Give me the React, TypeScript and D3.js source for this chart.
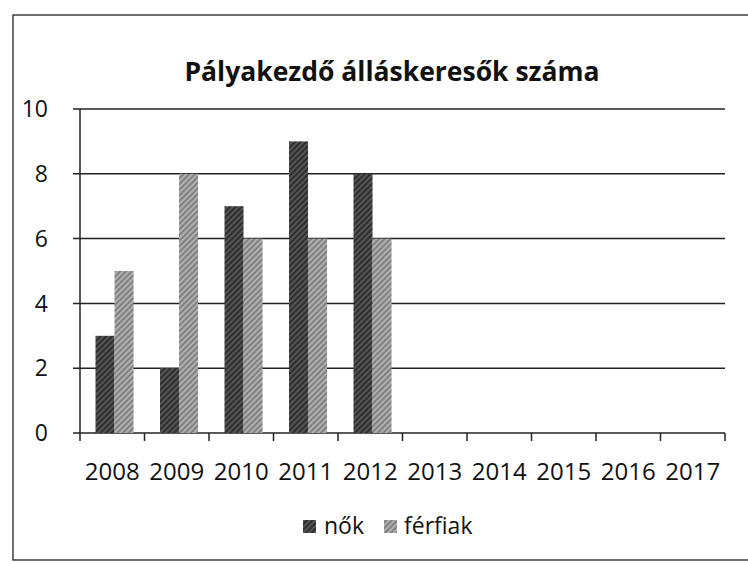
import React from "react";
import * as d3 from "d3";

const categories = ["2008", "2009", "2010", "2011", "2012", "2013", "2014", "2015", "2016", "2017"];
const nok = [3, 2, 7, 9, 8, null, null, null, null, null];
const ferfiak = [5, 8, 6, 6, 6, null, null, null, null, null];
const seriesNames = ["nők", "férfiak"];
const yTicks = [0, 2, 4, 6, 8, 10];

const W = 748, H = 564;
const left = 80, right = 725, top = 109, bottom = 433;

export default function App() {
  const x = d3.scaleBand().domain(categories).range([left, right]).paddingInner(0).paddingOuter(0);
  const y = d3.scaleLinear().domain([0, 10]).range([bottom, top]);
  const bw = x.bandwidth();
  const barW = bw * 0.295;
  const gap = 15.5;
  const font = "'Open Sans', sans-serif";
  const series = [
    { name: seriesNames[0], values: nok, fill: "url(#pDark)" },
    { name: seriesNames[1], values: ferfiak, fill: "url(#pLight)" },
  ];
  return (
    <svg width={W} height={H} style={{ position: "absolute", left: 0, top: 0, background: "#fff" }}>
      <defs>
        <pattern id="pDark" width="4" height="4" patternUnits="userSpaceOnUse" patternTransform="rotate(45)">
          <rect width="4" height="4" fill="#555" />
          <rect width="2" height="4" fill="#2e2e2e" />
        </pattern>
        <pattern id="pLight" width="4" height="4" patternUnits="userSpaceOnUse" patternTransform="rotate(45)">
          <rect width="4" height="4" fill="#b0b0b0" />
          <rect width="2" height="4" fill="#808080" />
        </pattern>
      </defs>
      <rect x={0} y={0} width={W} height={H} fill="#fff" />
      <rect x={13} y={15} width={W} height={545} fill="none" stroke="#222" strokeWidth={1.3} />
      <text x={392} y={81} textAnchor="middle" fontFamily={font} fontWeight="bold" fontSize={26.5} fill="#111">
        Pályakezdő álláskeresők száma
      </text>
      {yTicks.map((t) => (
        <g key={t}>
          <line x1={left - 7} x2={right} y1={y(t)} y2={y(t)} stroke="#222" strokeWidth={1.5} />
          <text x={48} y={y(t)} dy="0.36em" textAnchor="end" fontFamily={font} fontSize={23} fill="#111">{t}</text>
        </g>
      ))}
      <line x1={left} x2={left} y1={top} y2={bottom} stroke="#222" strokeWidth={1.5} />
      {categories.map((c) => (
        <line key={"t" + c} x1={x(c)!} x2={x(c)!} y1={bottom} y2={bottom + 8} stroke="#222" strokeWidth={1.5} />
      ))}
      <line x1={right} x2={right} y1={bottom} y2={bottom + 8} stroke="#222" strokeWidth={1.5} />
      {series.map((s, si) =>
        s.values.map((v, i) =>
          v == null ? null : (
            <rect key={s.name + i} x={x(categories[i])! + gap + si * barW} y={y(v)} width={barW} height={y(0) - y(v)} fill={s.fill} />
          )
        )
      )}
      {categories.map((c) => (
        <text key={c} x={x(c)! + bw / 2} y={471} textAnchor="middle" dy="0.36em" fontFamily={font} fontSize={24} fill="#111">{c}</text>
      ))}
      <rect x={303} y={520} width={13} height={13} fill="url(#pDark)" />
      <text x={324} y={534} fontFamily={font} fontSize={23} fill="#111">{seriesNames[0]}</text>
      <rect x={384} y={520} width={13} height={13} fill="url(#pLight)" />
      <text x={404} y={534} fontFamily={font} fontSize={23} fill="#111">{seriesNames[1]}</text>
    </svg>
  );
}
